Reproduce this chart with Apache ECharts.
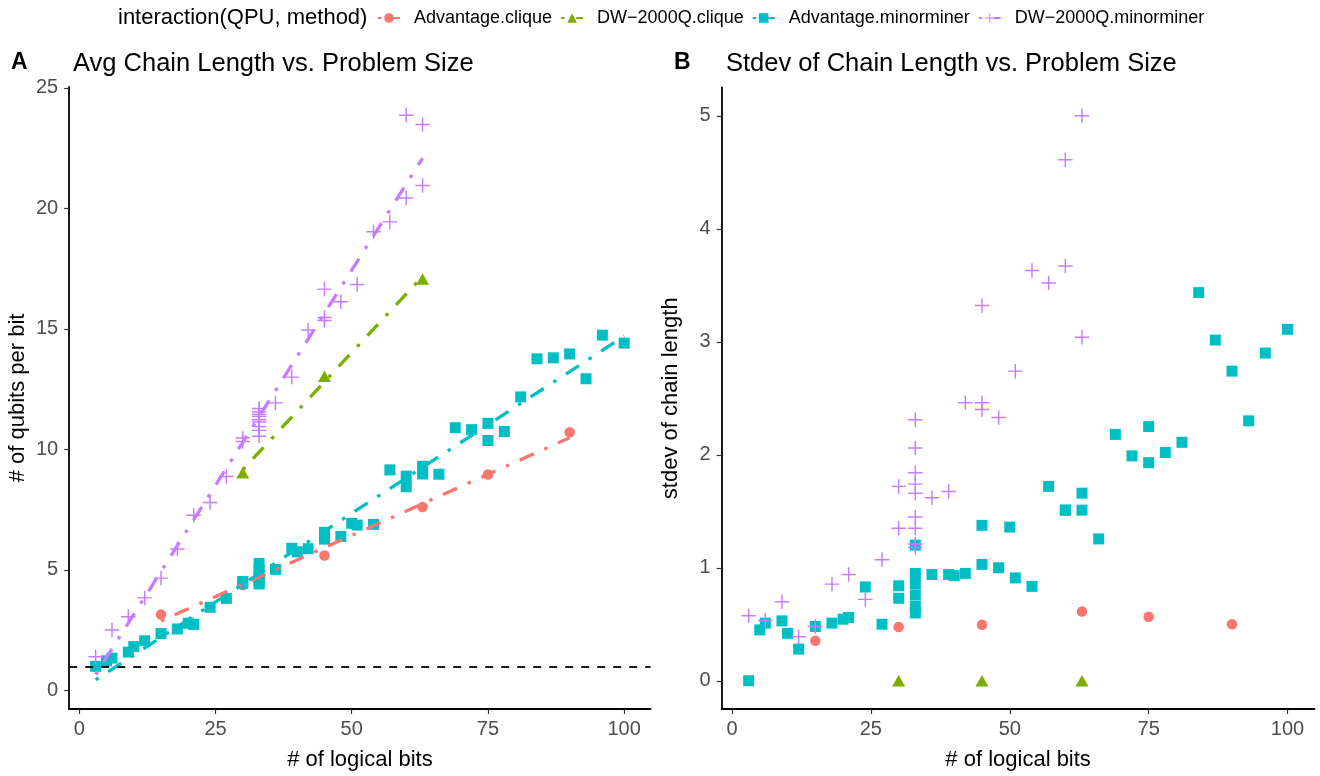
<!DOCTYPE html>
<html><head><meta charset="utf-8">
<script src="https://cdn.jsdelivr.net/npm/echarts@6/dist/echarts.min.js"></script>
<style>html,body{margin:0;padding:0;background:#fff}#c{width:1320px;height:776px}</style>
</head><body><div id="c"></div>
<script>
// ---------- DATA ----------
const seriesNames = ['Advantage.clique', 'DW\u22122000Q.clique', 'Advantage.minorminer', 'DW\u22122000Q.minorminer'];
const xTicks = [0, 25, 50, 75, 100];
const yTicksA = [0, 5, 10, 15, 20, 25];
const yTicksB = [0, 1, 2, 3, 4, 5];

const advCliqueX   = [15, 30, 45, 63, 75, 90];
const advCliqueAvg = [3.15, 4.37, 5.60, 7.61, 8.96, 10.71];
const advCliqueSd  = [0.353, 0.476, 0.496, 0.613, 0.566, 0.50];

const dwCliqueX   = [30, 45, 63];
const dwCliqueAvg = [9.03, 13.04, 17.07];
const dwCliqueSd  = [0, 0, 0];

const advMinorX   = [3,5,6,9,10,12,15,18,20,21,24,27,30,30,33,33,33,33,33,33,36,39,40,42,45,45,48,50,51,54,57,60,60,63,63,66,69,72,75,75,78,81,84,87,90,93,96,100];
const advMinorAvg = [1.0,1.23,1.34,1.59,1.82,2.06,2.36,2.55,2.79,2.74,3.45,3.82,4.45,4.52,5.27,4.97,4.79,4.62,4.50,4.42,5.02,5.90,5.75,5.88,6.56,6.28,6.39,6.93,6.86,6.89,9.15,8.89,8.45,9.30,8.98,8.97,10.90,10.82,11.08,10.37,10.74,12.18,13.76,13.80,13.96,12.93,14.74,14.41];
const advMinorSd  = [0,0.45,0.51,0.53,0.42,0.28,0.48,0.51,0.545,0.56,0.83,0.50,0.84,0.73,1.20,0.95,0.86,0.76,0.66,0.60,0.94,0.94,0.93,0.95,1.375,1.03,1.00,1.36,0.91,0.835,1.72,1.51,1.51,1.66,1.51,1.255,2.18,1.99,2.25,1.93,2.02,2.11,3.435,3.015,2.74,2.30,2.90,3.11];

const dwMinorX   = [3,6,9,12,15,18,21,24,27,30,30,33,33,33,33,33,33,33,33,33,36,39,42,45,45,45,48,51,54,57,60,60,63,63];
const dwMinorAvg = [1.40,2.51,3.06,3.84,4.66,5.87,7.27,7.80,8.88,10.47,10.33,11.70,11.55,11.45,11.37,11.23,11.14,10.95,10.79,10.55,11.93,13.0,14.95,16.65,15.47,15.35,16.13,16.84,19.03,19.44,23.86,20.43,23.48,20.95];
const dwMinorSd  = [0.575,0.534,0.70,0.39,0.48,0.855,0.94,0.72,1.07,1.72,1.35,2.31,2.06,1.84,1.74,1.66,1.45,1.35,1.21,1.18,1.62,1.675,2.46,3.32,2.46,2.40,2.33,2.74,3.63,3.52,4.61,3.67,5.00,3.04];

const refLineY = 1;

// ---------- STYLE ----------
const colors = ['#F8766D', '#7CAE00', '#00BFC4', '#C77CFF'];
const PLUS = 'path://M0,6.3 L14,6.3 L14,7.7 L0,7.7 Z M6.3,0 L7.7,0 L7.7,14 L6.3,14 Z';
const symbols = ['circle', 'triangle', 'rect', PLUS];
const symbolSizes = [10.5, [13, 11.5], 11, 14.5];
const FONT = 'Liberation Sans, Arial, sans-serif';
const dashDot = [3.5, 11.5, 15.5, 11.5];

const groups = [
  {x: advCliqueX, avg: advCliqueAvg, sd: advCliqueSd},
  {x: dwCliqueX, avg: dwCliqueAvg, sd: dwCliqueSd},
  {x: advMinorX, avg: advMinorAvg, sd: advMinorSd},
  {x: dwMinorX, avg: dwMinorAvg, sd: dwMinorSd}
];

function lmLine(xs, ys) {
  const n = xs.length;
  let sx = 0, sy = 0, sxx = 0, sxy = 0;
  for (let i = 0; i < n; i++) { sx += xs[i]; sy += ys[i]; sxx += xs[i]*xs[i]; sxy += xs[i]*ys[i]; }
  const b = (n*sxy - sx*sy) / (n*sxx - sx*sx);
  const a = (sy - b*sx) / n;
  const x0 = Math.min(...xs), x1 = Math.max(...xs);
  return [[x0, a + b*x0], [x1, a + b*x1]];
}

const series = [];
groups.forEach((g, i) => {
  series.push({
    name: seriesNames[i], type: 'line', xAxisIndex: 0, yAxisIndex: 0, z: 4,
    data: lmLine(g.x, g.avg), showSymbol: false, symbol: symbols[i], symbolSize: symbolSizes[i],
    itemStyle: {color: colors[i]},
    lineStyle: {color: colors[i], width: 3.3, type: dashDot, cap: 'butt'},
    silent: true
  });
});
groups.forEach((g, i) => {
  series.push({
    name: seriesNames[i], type: 'scatter', xAxisIndex: 0, yAxisIndex: 0, z: 3,
    symbol: symbols[i], symbolSize: symbolSizes[i],
    itemStyle: {color: colors[i], opacity: 1},
    data: g.x.map((x, k) => [x, g.avg[k]]),
    markLine: i === 0 ? {silent: true, symbol: 'none', label: {show: false},
      lineStyle: {type: [8, 8], color: '#000', width: 1.8}, data: [{yAxis: refLineY}]} : undefined
  });
  series.push({
    name: seriesNames[i], type: 'scatter', xAxisIndex: 1, yAxisIndex: 1, z: 3,
    symbol: symbols[i], symbolSize: symbolSizes[i],
    itemStyle: {color: colors[i], opacity: 1},
    data: g.x.map((x, k) => [x, g.sd[k]])
  });
});

function xAxis(gi) {
  return {
    gridIndex: gi, type: 'value', min: -1.85, max: 104.85,
    axisLine: {onZero: false, lineStyle: {color: '#000', width: 1.8}},
    axisTick: {length: 5, customValues: xTicks, lineStyle: {color: '#333', width: 1.2}},
    axisLabel: {customValues: xTicks, color: '#4D4D4D', fontSize: 20, fontFamily: FONT, margin: 10},
    splitLine: {show: false},
    name: '# of logical bits', nameLocation: 'middle', nameGap: 40,
    nameTextStyle: {color: '#000', fontSize: 22, fontFamily: FONT}
  };
}
function yAxis(gi, mn, mx, ticks, name) {
  return {
    gridIndex: gi, type: 'value', min: mn, max: mx,
    axisLine: {show: true, onZero: false, lineStyle: {color: '#000', width: 1.8}},
    axisTick: {show: true, length: 5, customValues: ticks, lineStyle: {color: '#333', width: 1.2}},
    axisLabel: {customValues: ticks, color: '#4D4D4D', fontSize: 20, fontFamily: FONT, margin: 11},
    splitLine: {show: false},
    name: name, nameLocation: 'middle', nameGap: 40,
    nameTextStyle: {color: '#000', fontSize: 22, fontFamily: FONT}
  };
}

const chart = echarts.init(document.getElementById('c'), null, {renderer: 'canvas'});
chart.setOption({
  animation: false,
  backgroundColor: '#fff',
  color: colors,
  title: [
    {text: 'interaction(QPU, method)', left: 113, top: 2, textStyle: {fontSize: 22, fontWeight: 'normal', color: '#000', fontFamily: FONT}},
    {text: 'A', left: 6, top: 46, textStyle: {fontSize: 23, fontWeight: 'bold', color: '#000', fontFamily: FONT}},
    {text: 'Avg Chain Length vs. Problem Size', left: 68, top: 46, textStyle: {fontSize: 25.5, fontWeight: 'normal', color: '#000', fontFamily: FONT}},
    {text: 'B', left: 669, top: 46, textStyle: {fontSize: 23, fontWeight: 'bold', color: '#000', fontFamily: FONT}},
    {text: 'Stdev of Chain Length vs. Problem Size', left: 721, top: 46, textStyle: {fontSize: 25.5, fontWeight: 'normal', color: '#000', fontFamily: FONT}}
  ],
  legend: {
    data: seriesNames, left: 372, top: 4, itemWidth: 22, itemHeight: 12, itemGap: 8,
    textStyle: {fontSize: 18, color: '#000', fontFamily: FONT, padding: [0, 0, 0, 9]},
    selectedMode: false
  },
  grid: [
    {left: 69.2, top: 86.9, width: 581.4, height: 628.3, containLabel: false},
    {left: 721.7, top: 87.5, width: 592.8, height: 628, containLabel: false}
  ],
  xAxis: [xAxis(0), xAxis(1)],
  yAxis: [
    yAxis(0, -0.77, 25.04, yTicksA, '# of qubits per bit'),
    yAxis(1, -0.25, 5.25, yTicksB, 'stdev of chain length')
  ],
  series: series
});
</script></body></html>
